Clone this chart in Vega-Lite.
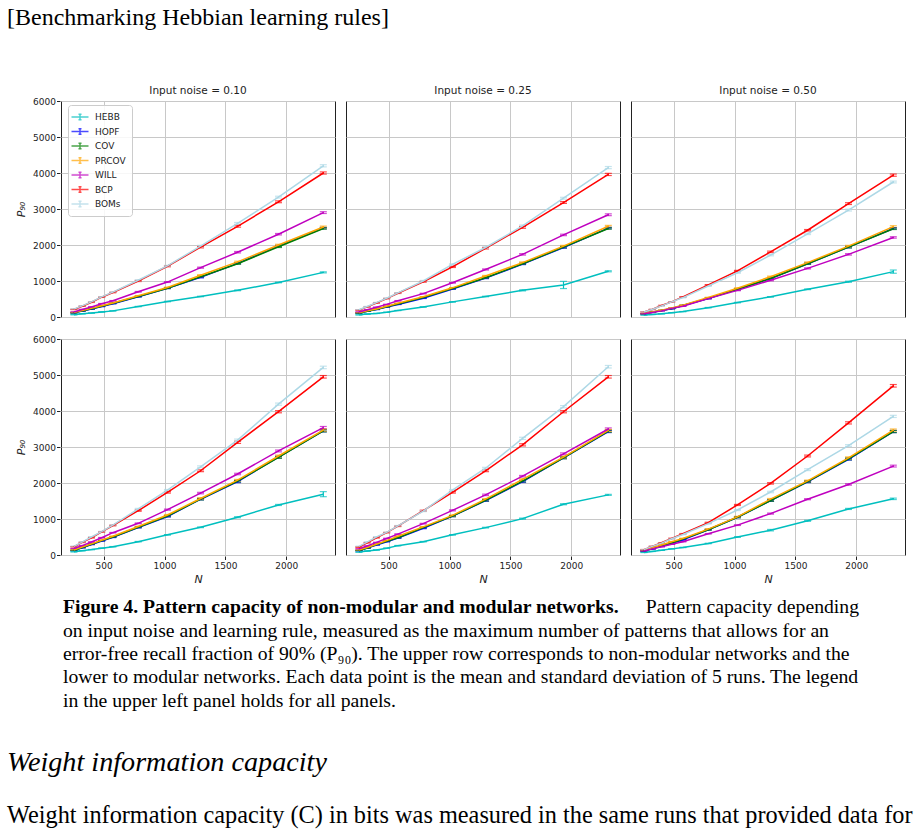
{
"$schema": "https://vega.github.io/schema/vega-lite/v6.json",
"padding": {"left": 7, "top": 5, "right": 5, "bottom": 0},
"background": "white",
"title": {"text": "[Benchmarking Hebbian learning rules]", "anchor": "start", "frame": "bounds", "font": "Liberation Serif", "fontSize": 24, "fontWeight": "normal", "color": "#000", "offset": 56},
"spacing": 0,
"datasets": {
"p90": [
{"noise":"0.10","net":"non-modular","rule":"HEBB","N":256,"P":65,"sd":3},{"noise":"0.10","net":"non-modular","rule":"HEBB","N":324,"P":90,"sd":3},{"noise":"0.10","net":"non-modular","rule":"HEBB","N":400,"P":110,"sd":3},{"noise":"0.10","net":"non-modular","rule":"HEBB","N":484,"P":140,"sd":3},{"noise":"0.10","net":"non-modular","rule":"HEBB","N":576,"P":170,"sd":3},{"noise":"0.10","net":"non-modular","rule":"HEBB","N":784,"P":290,"sd":5},{"noise":"0.10","net":"non-modular","rule":"HEBB","N":1024,"P":430,"sd":7},{"noise":"0.10","net":"non-modular","rule":"HEBB","N":1296,"P":570,"sd":7},{"noise":"0.10","net":"non-modular","rule":"HEBB","N":1600,"P":740,"sd":10},{"noise":"0.10","net":"non-modular","rule":"HEBB","N":1936,"P":960,"sd":10},{"noise":"0.10","net":"non-modular","rule":"HEBB","N":2304,"P":1240,"sd":15},
{"noise":"0.10","net":"non-modular","rule":"HOPF","N":256,"P":115,"sd":3},{"noise":"0.10","net":"non-modular","rule":"HOPF","N":324,"P":165,"sd":3},{"noise":"0.10","net":"non-modular","rule":"HOPF","N":400,"P":220,"sd":5},{"noise":"0.10","net":"non-modular","rule":"HOPF","N":484,"P":290,"sd":5},{"noise":"0.10","net":"non-modular","rule":"HOPF","N":576,"P":370,"sd":5},{"noise":"0.10","net":"non-modular","rule":"HOPF","N":784,"P":560,"sd":7},{"noise":"0.10","net":"non-modular","rule":"HOPF","N":1024,"P":800,"sd":10},{"noise":"0.10","net":"non-modular","rule":"HOPF","N":1296,"P":1100,"sd":15},{"noise":"0.10","net":"non-modular","rule":"HOPF","N":1600,"P":1490,"sd":15},{"noise":"0.10","net":"non-modular","rule":"HOPF","N":1936,"P":1970,"sd":20},{"noise":"0.10","net":"non-modular","rule":"HOPF","N":2304,"P":2470,"sd":20},
{"noise":"0.10","net":"non-modular","rule":"COV","N":256,"P":115,"sd":3},{"noise":"0.10","net":"non-modular","rule":"COV","N":324,"P":170,"sd":3},{"noise":"0.10","net":"non-modular","rule":"COV","N":400,"P":230,"sd":5},{"noise":"0.10","net":"non-modular","rule":"COV","N":484,"P":300,"sd":5},{"noise":"0.10","net":"non-modular","rule":"COV","N":576,"P":380,"sd":5},{"noise":"0.10","net":"non-modular","rule":"COV","N":784,"P":570,"sd":7},{"noise":"0.10","net":"non-modular","rule":"COV","N":1024,"P":800,"sd":10},{"noise":"0.10","net":"non-modular","rule":"COV","N":1296,"P":1120,"sd":15},{"noise":"0.10","net":"non-modular","rule":"COV","N":1600,"P":1480,"sd":15},{"noise":"0.10","net":"non-modular","rule":"COV","N":1936,"P":1950,"sd":20},{"noise":"0.10","net":"non-modular","rule":"COV","N":2304,"P":2460,"sd":20},
{"noise":"0.10","net":"non-modular","rule":"PRCOV","N":256,"P":125,"sd":3},{"noise":"0.10","net":"non-modular","rule":"PRCOV","N":324,"P":180,"sd":3},{"noise":"0.10","net":"non-modular","rule":"PRCOV","N":400,"P":240,"sd":5},{"noise":"0.10","net":"non-modular","rule":"PRCOV","N":484,"P":310,"sd":5},{"noise":"0.10","net":"non-modular","rule":"PRCOV","N":576,"P":390,"sd":5},{"noise":"0.10","net":"non-modular","rule":"PRCOV","N":784,"P":590,"sd":7},{"noise":"0.10","net":"non-modular","rule":"PRCOV","N":1024,"P":820,"sd":10},{"noise":"0.10","net":"non-modular","rule":"PRCOV","N":1296,"P":1160,"sd":15},{"noise":"0.10","net":"non-modular","rule":"PRCOV","N":1600,"P":1530,"sd":20},{"noise":"0.10","net":"non-modular","rule":"PRCOV","N":1936,"P":2000,"sd":20},{"noise":"0.10","net":"non-modular","rule":"PRCOV","N":2304,"P":2500,"sd":25},
{"noise":"0.10","net":"non-modular","rule":"WILL","N":256,"P":140,"sd":3},{"noise":"0.10","net":"non-modular","rule":"WILL","N":324,"P":210,"sd":5},{"noise":"0.10","net":"non-modular","rule":"WILL","N":400,"P":280,"sd":5},{"noise":"0.10","net":"non-modular","rule":"WILL","N":484,"P":370,"sd":5},{"noise":"0.10","net":"non-modular","rule":"WILL","N":576,"P":450,"sd":7},{"noise":"0.10","net":"non-modular","rule":"WILL","N":784,"P":700,"sd":10},{"noise":"0.10","net":"non-modular","rule":"WILL","N":1024,"P":970,"sd":10},{"noise":"0.10","net":"non-modular","rule":"WILL","N":1296,"P":1370,"sd":15},{"noise":"0.10","net":"non-modular","rule":"WILL","N":1600,"P":1800,"sd":20},{"noise":"0.10","net":"non-modular","rule":"WILL","N":1936,"P":2300,"sd":20},{"noise":"0.10","net":"non-modular","rule":"WILL","N":2304,"P":2900,"sd":25},
{"noise":"0.10","net":"non-modular","rule":"BCP","N":256,"P":210,"sd":5},{"noise":"0.10","net":"non-modular","rule":"BCP","N":324,"P":300,"sd":5},{"noise":"0.10","net":"non-modular","rule":"BCP","N":400,"P":410,"sd":7},{"noise":"0.10","net":"non-modular","rule":"BCP","N":484,"P":550,"sd":7},{"noise":"0.10","net":"non-modular","rule":"BCP","N":576,"P":680,"sd":7},{"noise":"0.10","net":"non-modular","rule":"BCP","N":784,"P":1000,"sd":15},{"noise":"0.10","net":"non-modular","rule":"BCP","N":1024,"P":1410,"sd":15},{"noise":"0.10","net":"non-modular","rule":"BCP","N":1296,"P":1940,"sd":20},{"noise":"0.10","net":"non-modular","rule":"BCP","N":1600,"P":2520,"sd":25},{"noise":"0.10","net":"non-modular","rule":"BCP","N":1936,"P":3200,"sd":25},{"noise":"0.10","net":"non-modular","rule":"BCP","N":2304,"P":4000,"sd":30},
{"noise":"0.10","net":"non-modular","rule":"BOMs","N":256,"P":220,"sd":5},{"noise":"0.10","net":"non-modular","rule":"BOMs","N":324,"P":310,"sd":5},{"noise":"0.10","net":"non-modular","rule":"BOMs","N":400,"P":420,"sd":7},{"noise":"0.10","net":"non-modular","rule":"BOMs","N":484,"P":560,"sd":7},{"noise":"0.10","net":"non-modular","rule":"BOMs","N":576,"P":690,"sd":7},{"noise":"0.10","net":"non-modular","rule":"BOMs","N":784,"P":1020,"sd":15},{"noise":"0.10","net":"non-modular","rule":"BOMs","N":1024,"P":1420,"sd":15},{"noise":"0.10","net":"non-modular","rule":"BOMs","N":1296,"P":1970,"sd":20},{"noise":"0.10","net":"non-modular","rule":"BOMs","N":1600,"P":2600,"sd":25},{"noise":"0.10","net":"non-modular","rule":"BOMs","N":1936,"P":3330,"sd":25},{"noise":"0.10","net":"non-modular","rule":"BOMs","N":2304,"P":4200,"sd":30},

{"noise":"0.25","net":"non-modular","rule":"HEBB","N":256,"P":60,"sd":3},{"noise":"0.25","net":"non-modular","rule":"HEBB","N":324,"P":80,"sd":3},{"noise":"0.25","net":"non-modular","rule":"HEBB","N":400,"P":100,"sd":3},{"noise":"0.25","net":"non-modular","rule":"HEBB","N":484,"P":130,"sd":3},{"noise":"0.25","net":"non-modular","rule":"HEBB","N":576,"P":180,"sd":3},{"noise":"0.25","net":"non-modular","rule":"HEBB","N":784,"P":280,"sd":5},{"noise":"0.25","net":"non-modular","rule":"HEBB","N":1024,"P":420,"sd":7},{"noise":"0.25","net":"non-modular","rule":"HEBB","N":1296,"P":570,"sd":7},{"noise":"0.25","net":"non-modular","rule":"HEBB","N":1600,"P":740,"sd":15},{"noise":"0.25","net":"non-modular","rule":"HEBB","N":1936,"P":890,"sd":100},{"noise":"0.25","net":"non-modular","rule":"HEBB","N":2304,"P":1270,"sd":15},
{"noise":"0.25","net":"non-modular","rule":"HOPF","N":256,"P":110,"sd":3},{"noise":"0.25","net":"non-modular","rule":"HOPF","N":324,"P":160,"sd":3},{"noise":"0.25","net":"non-modular","rule":"HOPF","N":400,"P":210,"sd":5},{"noise":"0.25","net":"non-modular","rule":"HOPF","N":484,"P":280,"sd":5},{"noise":"0.25","net":"non-modular","rule":"HOPF","N":576,"P":350,"sd":5},{"noise":"0.25","net":"non-modular","rule":"HOPF","N":784,"P":520,"sd":7},{"noise":"0.25","net":"non-modular","rule":"HOPF","N":1024,"P":780,"sd":10},{"noise":"0.25","net":"non-modular","rule":"HOPF","N":1296,"P":1080,"sd":15},{"noise":"0.25","net":"non-modular","rule":"HOPF","N":1600,"P":1470,"sd":15},{"noise":"0.25","net":"non-modular","rule":"HOPF","N":1936,"P":1930,"sd":20},{"noise":"0.25","net":"non-modular","rule":"HOPF","N":2304,"P":2470,"sd":20},
{"noise":"0.25","net":"non-modular","rule":"COV","N":256,"P":110,"sd":3},{"noise":"0.25","net":"non-modular","rule":"COV","N":324,"P":160,"sd":3},{"noise":"0.25","net":"non-modular","rule":"COV","N":400,"P":215,"sd":5},{"noise":"0.25","net":"non-modular","rule":"COV","N":484,"P":285,"sd":5},{"noise":"0.25","net":"non-modular","rule":"COV","N":576,"P":360,"sd":5},{"noise":"0.25","net":"non-modular","rule":"COV","N":784,"P":540,"sd":7},{"noise":"0.25","net":"non-modular","rule":"COV","N":1024,"P":790,"sd":10},{"noise":"0.25","net":"non-modular","rule":"COV","N":1296,"P":1090,"sd":15},{"noise":"0.25","net":"non-modular","rule":"COV","N":1600,"P":1480,"sd":15},{"noise":"0.25","net":"non-modular","rule":"COV","N":1936,"P":1940,"sd":20},{"noise":"0.25","net":"non-modular","rule":"COV","N":2304,"P":2460,"sd":20},
{"noise":"0.25","net":"non-modular","rule":"PRCOV","N":256,"P":120,"sd":3},{"noise":"0.25","net":"non-modular","rule":"PRCOV","N":324,"P":170,"sd":3},{"noise":"0.25","net":"non-modular","rule":"PRCOV","N":400,"P":225,"sd":5},{"noise":"0.25","net":"non-modular","rule":"PRCOV","N":484,"P":300,"sd":5},{"noise":"0.25","net":"non-modular","rule":"PRCOV","N":576,"P":380,"sd":5},{"noise":"0.25","net":"non-modular","rule":"PRCOV","N":784,"P":560,"sd":7},{"noise":"0.25","net":"non-modular","rule":"PRCOV","N":1024,"P":810,"sd":10},{"noise":"0.25","net":"non-modular","rule":"PRCOV","N":1296,"P":1140,"sd":15},{"noise":"0.25","net":"non-modular","rule":"PRCOV","N":1600,"P":1510,"sd":20},{"noise":"0.25","net":"non-modular","rule":"PRCOV","N":1936,"P":1970,"sd":20},{"noise":"0.25","net":"non-modular","rule":"PRCOV","N":2304,"P":2520,"sd":25},
{"noise":"0.25","net":"non-modular","rule":"WILL","N":256,"P":140,"sd":3},{"noise":"0.25","net":"non-modular","rule":"WILL","N":324,"P":200,"sd":5},{"noise":"0.25","net":"non-modular","rule":"WILL","N":400,"P":270,"sd":5},{"noise":"0.25","net":"non-modular","rule":"WILL","N":484,"P":350,"sd":5},{"noise":"0.25","net":"non-modular","rule":"WILL","N":576,"P":450,"sd":7},{"noise":"0.25","net":"non-modular","rule":"WILL","N":784,"P":650,"sd":10},{"noise":"0.25","net":"non-modular","rule":"WILL","N":1024,"P":950,"sd":10},{"noise":"0.25","net":"non-modular","rule":"WILL","N":1296,"P":1320,"sd":15},{"noise":"0.25","net":"non-modular","rule":"WILL","N":1600,"P":1740,"sd":20},{"noise":"0.25","net":"non-modular","rule":"WILL","N":1936,"P":2280,"sd":20},{"noise":"0.25","net":"non-modular","rule":"WILL","N":2304,"P":2840,"sd":25},
{"noise":"0.25","net":"non-modular","rule":"BCP","N":256,"P":190,"sd":5},{"noise":"0.25","net":"non-modular","rule":"BCP","N":324,"P":280,"sd":5},{"noise":"0.25","net":"non-modular","rule":"BCP","N":400,"P":390,"sd":7},{"noise":"0.25","net":"non-modular","rule":"BCP","N":484,"P":510,"sd":7},{"noise":"0.25","net":"non-modular","rule":"BCP","N":576,"P":660,"sd":7},{"noise":"0.25","net":"non-modular","rule":"BCP","N":784,"P":980,"sd":15},{"noise":"0.25","net":"non-modular","rule":"BCP","N":1024,"P":1390,"sd":15},{"noise":"0.25","net":"non-modular","rule":"BCP","N":1296,"P":1910,"sd":20},{"noise":"0.25","net":"non-modular","rule":"BCP","N":1600,"P":2490,"sd":25},{"noise":"0.25","net":"non-modular","rule":"BCP","N":1936,"P":3180,"sd":25},{"noise":"0.25","net":"non-modular","rule":"BCP","N":2304,"P":3960,"sd":30},
{"noise":"0.25","net":"non-modular","rule":"BOMs","N":256,"P":200,"sd":5},{"noise":"0.25","net":"non-modular","rule":"BOMs","N":324,"P":290,"sd":5},{"noise":"0.25","net":"non-modular","rule":"BOMs","N":400,"P":400,"sd":7},{"noise":"0.25","net":"non-modular","rule":"BOMs","N":484,"P":520,"sd":7},{"noise":"0.25","net":"non-modular","rule":"BOMs","N":576,"P":670,"sd":7},{"noise":"0.25","net":"non-modular","rule":"BOMs","N":784,"P":1000,"sd":15},{"noise":"0.25","net":"non-modular","rule":"BOMs","N":1024,"P":1460,"sd":15},{"noise":"0.25","net":"non-modular","rule":"BOMs","N":1296,"P":1930,"sd":20},{"noise":"0.25","net":"non-modular","rule":"BOMs","N":1600,"P":2530,"sd":25},{"noise":"0.25","net":"non-modular","rule":"BOMs","N":1936,"P":3300,"sd":25},{"noise":"0.25","net":"non-modular","rule":"BOMs","N":2304,"P":4150,"sd":30},

{"noise":"0.50","net":"non-modular","rule":"HEBB","N":256,"P":55,"sd":3},{"noise":"0.50","net":"non-modular","rule":"HEBB","N":324,"P":70,"sd":3},{"noise":"0.50","net":"non-modular","rule":"HEBB","N":400,"P":90,"sd":3},{"noise":"0.50","net":"non-modular","rule":"HEBB","N":484,"P":120,"sd":3},{"noise":"0.50","net":"non-modular","rule":"HEBB","N":576,"P":150,"sd":3},{"noise":"0.50","net":"non-modular","rule":"HEBB","N":784,"P":260,"sd":5},{"noise":"0.50","net":"non-modular","rule":"HEBB","N":1024,"P":400,"sd":7},{"noise":"0.50","net":"non-modular","rule":"HEBB","N":1296,"P":560,"sd":7},{"noise":"0.50","net":"non-modular","rule":"HEBB","N":1600,"P":770,"sd":10},{"noise":"0.50","net":"non-modular","rule":"HEBB","N":1936,"P":980,"sd":15},{"noise":"0.50","net":"non-modular","rule":"HEBB","N":2304,"P":1260,"sd":45},
{"noise":"0.50","net":"non-modular","rule":"HOPF","N":256,"P":90,"sd":3},{"noise":"0.50","net":"non-modular","rule":"HOPF","N":324,"P":130,"sd":3},{"noise":"0.50","net":"non-modular","rule":"HOPF","N":400,"P":180,"sd":3},{"noise":"0.50","net":"non-modular","rule":"HOPF","N":484,"P":230,"sd":5},{"noise":"0.50","net":"non-modular","rule":"HOPF","N":576,"P":320,"sd":5},{"noise":"0.50","net":"non-modular","rule":"HOPF","N":784,"P":510,"sd":7},{"noise":"0.50","net":"non-modular","rule":"HOPF","N":1024,"P":770,"sd":10},{"noise":"0.50","net":"non-modular","rule":"HOPF","N":1296,"P":1070,"sd":15},{"noise":"0.50","net":"non-modular","rule":"HOPF","N":1600,"P":1480,"sd":15},{"noise":"0.50","net":"non-modular","rule":"HOPF","N":1936,"P":1940,"sd":20},{"noise":"0.50","net":"non-modular","rule":"HOPF","N":2304,"P":2460,"sd":20},
{"noise":"0.50","net":"non-modular","rule":"COV","N":256,"P":90,"sd":3},{"noise":"0.50","net":"non-modular","rule":"COV","N":324,"P":130,"sd":3},{"noise":"0.50","net":"non-modular","rule":"COV","N":400,"P":180,"sd":3},{"noise":"0.50","net":"non-modular","rule":"COV","N":484,"P":235,"sd":5},{"noise":"0.50","net":"non-modular","rule":"COV","N":576,"P":320,"sd":5},{"noise":"0.50","net":"non-modular","rule":"COV","N":784,"P":520,"sd":7},{"noise":"0.50","net":"non-modular","rule":"COV","N":1024,"P":770,"sd":10},{"noise":"0.50","net":"non-modular","rule":"COV","N":1296,"P":1070,"sd":15},{"noise":"0.50","net":"non-modular","rule":"COV","N":1600,"P":1480,"sd":15},{"noise":"0.50","net":"non-modular","rule":"COV","N":1936,"P":1940,"sd":20},{"noise":"0.50","net":"non-modular","rule":"COV","N":2304,"P":2450,"sd":20},
{"noise":"0.50","net":"non-modular","rule":"PRCOV","N":256,"P":95,"sd":3},{"noise":"0.50","net":"non-modular","rule":"PRCOV","N":324,"P":140,"sd":3},{"noise":"0.50","net":"non-modular","rule":"PRCOV","N":400,"P":190,"sd":3},{"noise":"0.50","net":"non-modular","rule":"PRCOV","N":484,"P":250,"sd":5},{"noise":"0.50","net":"non-modular","rule":"PRCOV","N":576,"P":330,"sd":5},{"noise":"0.50","net":"non-modular","rule":"PRCOV","N":784,"P":540,"sd":7},{"noise":"0.50","net":"non-modular","rule":"PRCOV","N":1024,"P":800,"sd":10},{"noise":"0.50","net":"non-modular","rule":"PRCOV","N":1296,"P":1120,"sd":15},{"noise":"0.50","net":"non-modular","rule":"PRCOV","N":1600,"P":1510,"sd":20},{"noise":"0.50","net":"non-modular","rule":"PRCOV","N":1936,"P":1970,"sd":20},{"noise":"0.50","net":"non-modular","rule":"PRCOV","N":2304,"P":2510,"sd":25},
{"noise":"0.50","net":"non-modular","rule":"WILL","N":256,"P":90,"sd":3},{"noise":"0.50","net":"non-modular","rule":"WILL","N":324,"P":125,"sd":3},{"noise":"0.50","net":"non-modular","rule":"WILL","N":400,"P":170,"sd":3},{"noise":"0.50","net":"non-modular","rule":"WILL","N":484,"P":240,"sd":5},{"noise":"0.50","net":"non-modular","rule":"WILL","N":576,"P":300,"sd":5},{"noise":"0.50","net":"non-modular","rule":"WILL","N":784,"P":510,"sd":7},{"noise":"0.50","net":"non-modular","rule":"WILL","N":1024,"P":740,"sd":10},{"noise":"0.50","net":"non-modular","rule":"WILL","N":1296,"P":1020,"sd":15},{"noise":"0.50","net":"non-modular","rule":"WILL","N":1600,"P":1350,"sd":15},{"noise":"0.50","net":"non-modular","rule":"WILL","N":1936,"P":1740,"sd":20},{"noise":"0.50","net":"non-modular","rule":"WILL","N":2304,"P":2210,"sd":20},
{"noise":"0.50","net":"non-modular","rule":"BCP","N":256,"P":140,"sd":3},{"noise":"0.50","net":"non-modular","rule":"BCP","N":324,"P":210,"sd":5},{"noise":"0.50","net":"non-modular","rule":"BCP","N":400,"P":320,"sd":5},{"noise":"0.50","net":"non-modular","rule":"BCP","N":484,"P":420,"sd":7},{"noise":"0.50","net":"non-modular","rule":"BCP","N":576,"P":560,"sd":7},{"noise":"0.50","net":"non-modular","rule":"BCP","N":784,"P":890,"sd":10},{"noise":"0.50","net":"non-modular","rule":"BCP","N":1024,"P":1280,"sd":15},{"noise":"0.50","net":"non-modular","rule":"BCP","N":1296,"P":1810,"sd":20},{"noise":"0.50","net":"non-modular","rule":"BCP","N":1600,"P":2410,"sd":20},{"noise":"0.50","net":"non-modular","rule":"BCP","N":1936,"P":3150,"sd":25},{"noise":"0.50","net":"non-modular","rule":"BCP","N":2304,"P":3940,"sd":30},
{"noise":"0.50","net":"non-modular","rule":"BOMs","N":256,"P":140,"sd":3},{"noise":"0.50","net":"non-modular","rule":"BOMs","N":324,"P":210,"sd":5},{"noise":"0.50","net":"non-modular","rule":"BOMs","N":400,"P":310,"sd":5},{"noise":"0.50","net":"non-modular","rule":"BOMs","N":484,"P":420,"sd":7},{"noise":"0.50","net":"non-modular","rule":"BOMs","N":576,"P":540,"sd":7},{"noise":"0.50","net":"non-modular","rule":"BOMs","N":784,"P":860,"sd":10},{"noise":"0.50","net":"non-modular","rule":"BOMs","N":1024,"P":1230,"sd":15},{"noise":"0.50","net":"non-modular","rule":"BOMs","N":1296,"P":1720,"sd":20},{"noise":"0.50","net":"non-modular","rule":"BOMs","N":1600,"P":2310,"sd":20},{"noise":"0.50","net":"non-modular","rule":"BOMs","N":1936,"P":2970,"sd":25},{"noise":"0.50","net":"non-modular","rule":"BOMs","N":2304,"P":3750,"sd":25},

{"noise":"0.10","net":"modular","rule":"HEBB","N":256,"P":90,"sd":3},{"noise":"0.10","net":"modular","rule":"HEBB","N":324,"P":120,"sd":3},{"noise":"0.10","net":"modular","rule":"HEBB","N":400,"P":150,"sd":3},{"noise":"0.10","net":"modular","rule":"HEBB","N":484,"P":190,"sd":3},{"noise":"0.10","net":"modular","rule":"HEBB","N":576,"P":230,"sd":5},{"noise":"0.10","net":"modular","rule":"HEBB","N":784,"P":370,"sd":7},{"noise":"0.10","net":"modular","rule":"HEBB","N":1024,"P":560,"sd":7},{"noise":"0.10","net":"modular","rule":"HEBB","N":1296,"P":770,"sd":10},{"noise":"0.10","net":"modular","rule":"HEBB","N":1600,"P":1050,"sd":15},{"noise":"0.10","net":"modular","rule":"HEBB","N":1936,"P":1390,"sd":15},{"noise":"0.10","net":"modular","rule":"HEBB","N":2304,"P":1690,"sd":70},
{"noise":"0.10","net":"modular","rule":"HOPF","N":256,"P":125,"sd":3},{"noise":"0.10","net":"modular","rule":"HOPF","N":324,"P":200,"sd":5},{"noise":"0.10","net":"modular","rule":"HOPF","N":400,"P":290,"sd":5},{"noise":"0.10","net":"modular","rule":"HOPF","N":484,"P":390,"sd":5},{"noise":"0.10","net":"modular","rule":"HOPF","N":576,"P":490,"sd":7},{"noise":"0.10","net":"modular","rule":"HOPF","N":784,"P":760,"sd":10},{"noise":"0.10","net":"modular","rule":"HOPF","N":1024,"P":1070,"sd":15},{"noise":"0.10","net":"modular","rule":"HOPF","N":1296,"P":1550,"sd":20},{"noise":"0.10","net":"modular","rule":"HOPF","N":1600,"P":2040,"sd":30},{"noise":"0.10","net":"modular","rule":"HOPF","N":1936,"P":2720,"sd":25},{"noise":"0.10","net":"modular","rule":"HOPF","N":2304,"P":3450,"sd":30},
{"noise":"0.10","net":"modular","rule":"COV","N":256,"P":130,"sd":3},{"noise":"0.10","net":"modular","rule":"COV","N":324,"P":210,"sd":5},{"noise":"0.10","net":"modular","rule":"COV","N":400,"P":300,"sd":5},{"noise":"0.10","net":"modular","rule":"COV","N":484,"P":400,"sd":5},{"noise":"0.10","net":"modular","rule":"COV","N":576,"P":500,"sd":7},{"noise":"0.10","net":"modular","rule":"COV","N":784,"P":770,"sd":10},{"noise":"0.10","net":"modular","rule":"COV","N":1024,"P":1080,"sd":15},{"noise":"0.10","net":"modular","rule":"COV","N":1296,"P":1550,"sd":20},{"noise":"0.10","net":"modular","rule":"COV","N":1600,"P":2050,"sd":20},{"noise":"0.10","net":"modular","rule":"COV","N":1936,"P":2710,"sd":25},{"noise":"0.10","net":"modular","rule":"COV","N":2304,"P":3450,"sd":30},
{"noise":"0.10","net":"modular","rule":"PRCOV","N":256,"P":140,"sd":3},{"noise":"0.10","net":"modular","rule":"PRCOV","N":324,"P":220,"sd":5},{"noise":"0.10","net":"modular","rule":"PRCOV","N":400,"P":310,"sd":5},{"noise":"0.10","net":"modular","rule":"PRCOV","N":484,"P":410,"sd":5},{"noise":"0.10","net":"modular","rule":"PRCOV","N":576,"P":520,"sd":7},{"noise":"0.10","net":"modular","rule":"PRCOV","N":784,"P":790,"sd":10},{"noise":"0.10","net":"modular","rule":"PRCOV","N":1024,"P":1110,"sd":15},{"noise":"0.10","net":"modular","rule":"PRCOV","N":1296,"P":1570,"sd":20},{"noise":"0.10","net":"modular","rule":"PRCOV","N":1600,"P":2080,"sd":20},{"noise":"0.10","net":"modular","rule":"PRCOV","N":1936,"P":2750,"sd":25},{"noise":"0.10","net":"modular","rule":"PRCOV","N":2304,"P":3470,"sd":30},
{"noise":"0.10","net":"modular","rule":"WILL","N":256,"P":180,"sd":3},{"noise":"0.10","net":"modular","rule":"WILL","N":324,"P":260,"sd":5},{"noise":"0.10","net":"modular","rule":"WILL","N":400,"P":360,"sd":5},{"noise":"0.10","net":"modular","rule":"WILL","N":484,"P":480,"sd":7},{"noise":"0.10","net":"modular","rule":"WILL","N":576,"P":620,"sd":7},{"noise":"0.10","net":"modular","rule":"WILL","N":784,"P":880,"sd":10},{"noise":"0.10","net":"modular","rule":"WILL","N":1024,"P":1260,"sd":15},{"noise":"0.10","net":"modular","rule":"WILL","N":1296,"P":1720,"sd":20},{"noise":"0.10","net":"modular","rule":"WILL","N":1600,"P":2250,"sd":20},{"noise":"0.10","net":"modular","rule":"WILL","N":1936,"P":2890,"sd":25},{"noise":"0.10","net":"modular","rule":"WILL","N":2304,"P":3540,"sd":30},
{"noise":"0.10","net":"modular","rule":"BCP","N":256,"P":230,"sd":5},{"noise":"0.10","net":"modular","rule":"BCP","N":324,"P":350,"sd":5},{"noise":"0.10","net":"modular","rule":"BCP","N":400,"P":480,"sd":7},{"noise":"0.10","net":"modular","rule":"BCP","N":484,"P":640,"sd":7},{"noise":"0.10","net":"modular","rule":"BCP","N":576,"P":820,"sd":10},{"noise":"0.10","net":"modular","rule":"BCP","N":784,"P":1230,"sd":15},{"noise":"0.10","net":"modular","rule":"BCP","N":1024,"P":1740,"sd":20},{"noise":"0.10","net":"modular","rule":"BCP","N":1296,"P":2340,"sd":25},{"noise":"0.10","net":"modular","rule":"BCP","N":1600,"P":3130,"sd":30},{"noise":"0.10","net":"modular","rule":"BCP","N":1936,"P":3980,"sd":30},{"noise":"0.10","net":"modular","rule":"BCP","N":2304,"P":4950,"sd":35},
{"noise":"0.10","net":"modular","rule":"BOMs","N":256,"P":240,"sd":5},{"noise":"0.10","net":"modular","rule":"BOMs","N":324,"P":360,"sd":5},{"noise":"0.10","net":"modular","rule":"BOMs","N":400,"P":500,"sd":7},{"noise":"0.10","net":"modular","rule":"BOMs","N":484,"P":650,"sd":7},{"noise":"0.10","net":"modular","rule":"BOMs","N":576,"P":830,"sd":10},{"noise":"0.10","net":"modular","rule":"BOMs","N":784,"P":1280,"sd":15},{"noise":"0.10","net":"modular","rule":"BOMs","N":1024,"P":1800,"sd":20},{"noise":"0.10","net":"modular","rule":"BOMs","N":1296,"P":2450,"sd":25},{"noise":"0.10","net":"modular","rule":"BOMs","N":1600,"P":3190,"sd":30},{"noise":"0.10","net":"modular","rule":"BOMs","N":1936,"P":4190,"sd":30},{"noise":"0.10","net":"modular","rule":"BOMs","N":2304,"P":5210,"sd":35},

{"noise":"0.25","net":"modular","rule":"HEBB","N":256,"P":80,"sd":3},{"noise":"0.25","net":"modular","rule":"HEBB","N":324,"P":110,"sd":3},{"noise":"0.25","net":"modular","rule":"HEBB","N":400,"P":140,"sd":3},{"noise":"0.25","net":"modular","rule":"HEBB","N":484,"P":190,"sd":3},{"noise":"0.25","net":"modular","rule":"HEBB","N":576,"P":260,"sd":5},{"noise":"0.25","net":"modular","rule":"HEBB","N":784,"P":370,"sd":7},{"noise":"0.25","net":"modular","rule":"HEBB","N":1024,"P":560,"sd":7},{"noise":"0.25","net":"modular","rule":"HEBB","N":1296,"P":760,"sd":10},{"noise":"0.25","net":"modular","rule":"HEBB","N":1600,"P":1010,"sd":15},{"noise":"0.25","net":"modular","rule":"HEBB","N":1936,"P":1410,"sd":15},{"noise":"0.25","net":"modular","rule":"HEBB","N":2304,"P":1670,"sd":15},
{"noise":"0.25","net":"modular","rule":"HOPF","N":256,"P":120,"sd":3},{"noise":"0.25","net":"modular","rule":"HOPF","N":324,"P":190,"sd":5},{"noise":"0.25","net":"modular","rule":"HOPF","N":400,"P":280,"sd":5},{"noise":"0.25","net":"modular","rule":"HOPF","N":484,"P":370,"sd":5},{"noise":"0.25","net":"modular","rule":"HOPF","N":576,"P":470,"sd":7},{"noise":"0.25","net":"modular","rule":"HOPF","N":784,"P":740,"sd":10},{"noise":"0.25","net":"modular","rule":"HOPF","N":1024,"P":1080,"sd":15},{"noise":"0.25","net":"modular","rule":"HOPF","N":1296,"P":1510,"sd":20},{"noise":"0.25","net":"modular","rule":"HOPF","N":1600,"P":2040,"sd":25},{"noise":"0.25","net":"modular","rule":"HOPF","N":1936,"P":2700,"sd":25},{"noise":"0.25","net":"modular","rule":"HOPF","N":2304,"P":3430,"sd":30},
{"noise":"0.25","net":"modular","rule":"COV","N":256,"P":125,"sd":3},{"noise":"0.25","net":"modular","rule":"COV","N":324,"P":195,"sd":5},{"noise":"0.25","net":"modular","rule":"COV","N":400,"P":290,"sd":5},{"noise":"0.25","net":"modular","rule":"COV","N":484,"P":380,"sd":5},{"noise":"0.25","net":"modular","rule":"COV","N":576,"P":480,"sd":7},{"noise":"0.25","net":"modular","rule":"COV","N":784,"P":760,"sd":10},{"noise":"0.25","net":"modular","rule":"COV","N":1024,"P":1080,"sd":15},{"noise":"0.25","net":"modular","rule":"COV","N":1296,"P":1520,"sd":20},{"noise":"0.25","net":"modular","rule":"COV","N":1600,"P":2050,"sd":20},{"noise":"0.25","net":"modular","rule":"COV","N":1936,"P":2700,"sd":25},{"noise":"0.25","net":"modular","rule":"COV","N":2304,"P":3440,"sd":30},
{"noise":"0.25","net":"modular","rule":"PRCOV","N":256,"P":135,"sd":3},{"noise":"0.25","net":"modular","rule":"PRCOV","N":324,"P":210,"sd":5},{"noise":"0.25","net":"modular","rule":"PRCOV","N":400,"P":300,"sd":5},{"noise":"0.25","net":"modular","rule":"PRCOV","N":484,"P":400,"sd":5},{"noise":"0.25","net":"modular","rule":"PRCOV","N":576,"P":520,"sd":7},{"noise":"0.25","net":"modular","rule":"PRCOV","N":784,"P":780,"sd":10},{"noise":"0.25","net":"modular","rule":"PRCOV","N":1024,"P":1100,"sd":15},{"noise":"0.25","net":"modular","rule":"PRCOV","N":1296,"P":1550,"sd":20},{"noise":"0.25","net":"modular","rule":"PRCOV","N":1600,"P":2100,"sd":20},{"noise":"0.25","net":"modular","rule":"PRCOV","N":1936,"P":2720,"sd":25},{"noise":"0.25","net":"modular","rule":"PRCOV","N":2304,"P":3460,"sd":30},
{"noise":"0.25","net":"modular","rule":"WILL","N":256,"P":170,"sd":3},{"noise":"0.25","net":"modular","rule":"WILL","N":324,"P":250,"sd":5},{"noise":"0.25","net":"modular","rule":"WILL","N":400,"P":350,"sd":5},{"noise":"0.25","net":"modular","rule":"WILL","N":484,"P":460,"sd":7},{"noise":"0.25","net":"modular","rule":"WILL","N":576,"P":580,"sd":7},{"noise":"0.25","net":"modular","rule":"WILL","N":784,"P":870,"sd":10},{"noise":"0.25","net":"modular","rule":"WILL","N":1024,"P":1240,"sd":15},{"noise":"0.25","net":"modular","rule":"WILL","N":1296,"P":1670,"sd":20},{"noise":"0.25","net":"modular","rule":"WILL","N":1600,"P":2190,"sd":20},{"noise":"0.25","net":"modular","rule":"WILL","N":1936,"P":2810,"sd":25},{"noise":"0.25","net":"modular","rule":"WILL","N":2304,"P":3500,"sd":30},
{"noise":"0.25","net":"modular","rule":"BCP","N":256,"P":220,"sd":5},{"noise":"0.25","net":"modular","rule":"BCP","N":324,"P":340,"sd":5},{"noise":"0.25","net":"modular","rule":"BCP","N":400,"P":480,"sd":7},{"noise":"0.25","net":"modular","rule":"BCP","N":484,"P":620,"sd":7},{"noise":"0.25","net":"modular","rule":"BCP","N":576,"P":800,"sd":10},{"noise":"0.25","net":"modular","rule":"BCP","N":784,"P":1230,"sd":15},{"noise":"0.25","net":"modular","rule":"BCP","N":1024,"P":1740,"sd":20},{"noise":"0.25","net":"modular","rule":"BCP","N":1296,"P":2340,"sd":25},{"noise":"0.25","net":"modular","rule":"BCP","N":1600,"P":3060,"sd":30},{"noise":"0.25","net":"modular","rule":"BCP","N":1936,"P":3980,"sd":30},{"noise":"0.25","net":"modular","rule":"BCP","N":2304,"P":4950,"sd":35},
{"noise":"0.25","net":"modular","rule":"BOMs","N":256,"P":240,"sd":5},{"noise":"0.25","net":"modular","rule":"BOMs","N":324,"P":360,"sd":5},{"noise":"0.25","net":"modular","rule":"BOMs","N":400,"P":500,"sd":7},{"noise":"0.25","net":"modular","rule":"BOMs","N":484,"P":630,"sd":7},{"noise":"0.25","net":"modular","rule":"BOMs","N":576,"P":810,"sd":10},{"noise":"0.25","net":"modular","rule":"BOMs","N":784,"P":1220,"sd":15},{"noise":"0.25","net":"modular","rule":"BOMs","N":1024,"P":1800,"sd":20},{"noise":"0.25","net":"modular","rule":"BOMs","N":1296,"P":2410,"sd":25},{"noise":"0.25","net":"modular","rule":"BOMs","N":1600,"P":3240,"sd":30},{"noise":"0.25","net":"modular","rule":"BOMs","N":1936,"P":4120,"sd":30},{"noise":"0.25","net":"modular","rule":"BOMs","N":2304,"P":5230,"sd":35},

{"noise":"0.50","net":"modular","rule":"HEBB","N":256,"P":70,"sd":3},{"noise":"0.50","net":"modular","rule":"HEBB","N":324,"P":100,"sd":3},{"noise":"0.50","net":"modular","rule":"HEBB","N":400,"P":130,"sd":3},{"noise":"0.50","net":"modular","rule":"HEBB","N":484,"P":170,"sd":3},{"noise":"0.50","net":"modular","rule":"HEBB","N":576,"P":210,"sd":5},{"noise":"0.50","net":"modular","rule":"HEBB","N":784,"P":320,"sd":7},{"noise":"0.50","net":"modular","rule":"HEBB","N":1024,"P":500,"sd":7},{"noise":"0.50","net":"modular","rule":"HEBB","N":1296,"P":690,"sd":20},{"noise":"0.50","net":"modular","rule":"HEBB","N":1600,"P":950,"sd":15},{"noise":"0.50","net":"modular","rule":"HEBB","N":1936,"P":1280,"sd":15},{"noise":"0.50","net":"modular","rule":"HEBB","N":2304,"P":1560,"sd":20},
{"noise":"0.50","net":"modular","rule":"HOPF","N":256,"P":110,"sd":3},{"noise":"0.50","net":"modular","rule":"HOPF","N":324,"P":170,"sd":3},{"noise":"0.50","net":"modular","rule":"HOPF","N":400,"P":240,"sd":5},{"noise":"0.50","net":"modular","rule":"HOPF","N":484,"P":320,"sd":5},{"noise":"0.50","net":"modular","rule":"HOPF","N":576,"P":420,"sd":7},{"noise":"0.50","net":"modular","rule":"HOPF","N":784,"P":700,"sd":10},{"noise":"0.50","net":"modular","rule":"HOPF","N":1024,"P":1050,"sd":15},{"noise":"0.50","net":"modular","rule":"HOPF","N":1296,"P":1510,"sd":20},{"noise":"0.50","net":"modular","rule":"HOPF","N":1600,"P":2030,"sd":20},{"noise":"0.50","net":"modular","rule":"HOPF","N":1936,"P":2660,"sd":25},{"noise":"0.50","net":"modular","rule":"HOPF","N":2304,"P":3430,"sd":30},
{"noise":"0.50","net":"modular","rule":"COV","N":256,"P":115,"sd":3},{"noise":"0.50","net":"modular","rule":"COV","N":324,"P":180,"sd":3},{"noise":"0.50","net":"modular","rule":"COV","N":400,"P":250,"sd":5},{"noise":"0.50","net":"modular","rule":"COV","N":484,"P":330,"sd":5},{"noise":"0.50","net":"modular","rule":"COV","N":576,"P":440,"sd":7},{"noise":"0.50","net":"modular","rule":"COV","N":784,"P":700,"sd":10},{"noise":"0.50","net":"modular","rule":"COV","N":1024,"P":1050,"sd":15},{"noise":"0.50","net":"modular","rule":"COV","N":1296,"P":1510,"sd":20},{"noise":"0.50","net":"modular","rule":"COV","N":1600,"P":2040,"sd":20},{"noise":"0.50","net":"modular","rule":"COV","N":1936,"P":2670,"sd":25},{"noise":"0.50","net":"modular","rule":"COV","N":2304,"P":3430,"sd":30},
{"noise":"0.50","net":"modular","rule":"PRCOV","N":256,"P":130,"sd":3},{"noise":"0.50","net":"modular","rule":"PRCOV","N":324,"P":200,"sd":3},{"noise":"0.50","net":"modular","rule":"PRCOV","N":400,"P":280,"sd":5},{"noise":"0.50","net":"modular","rule":"PRCOV","N":484,"P":370,"sd":5},{"noise":"0.50","net":"modular","rule":"PRCOV","N":576,"P":460,"sd":7},{"noise":"0.50","net":"modular","rule":"PRCOV","N":784,"P":720,"sd":10},{"noise":"0.50","net":"modular","rule":"PRCOV","N":1024,"P":1060,"sd":15},{"noise":"0.50","net":"modular","rule":"PRCOV","N":1296,"P":1550,"sd":20},{"noise":"0.50","net":"modular","rule":"PRCOV","N":1600,"P":2060,"sd":20},{"noise":"0.50","net":"modular","rule":"PRCOV","N":1936,"P":2700,"sd":25},{"noise":"0.50","net":"modular","rule":"PRCOV","N":2304,"P":3470,"sd":30},
{"noise":"0.50","net":"modular","rule":"WILL","N":256,"P":110,"sd":3},{"noise":"0.50","net":"modular","rule":"WILL","N":324,"P":170,"sd":3},{"noise":"0.50","net":"modular","rule":"WILL","N":400,"P":230,"sd":5},{"noise":"0.50","net":"modular","rule":"WILL","N":484,"P":300,"sd":5},{"noise":"0.50","net":"modular","rule":"WILL","N":576,"P":370,"sd":5},{"noise":"0.50","net":"modular","rule":"WILL","N":784,"P":590,"sd":7},{"noise":"0.50","net":"modular","rule":"WILL","N":1024,"P":830,"sd":10},{"noise":"0.50","net":"modular","rule":"WILL","N":1296,"P":1150,"sd":15},{"noise":"0.50","net":"modular","rule":"WILL","N":1600,"P":1550,"sd":15},{"noise":"0.50","net":"modular","rule":"WILL","N":1936,"P":1960,"sd":20},{"noise":"0.50","net":"modular","rule":"WILL","N":2304,"P":2470,"sd":25},
{"noise":"0.50","net":"modular","rule":"BCP","N":256,"P":150,"sd":3},{"noise":"0.50","net":"modular","rule":"BCP","N":324,"P":240,"sd":5},{"noise":"0.50","net":"modular","rule":"BCP","N":400,"P":340,"sd":5},{"noise":"0.50","net":"modular","rule":"BCP","N":484,"P":460,"sd":7},{"noise":"0.50","net":"modular","rule":"BCP","N":576,"P":590,"sd":7},{"noise":"0.50","net":"modular","rule":"BCP","N":784,"P":900,"sd":10},{"noise":"0.50","net":"modular","rule":"BCP","N":1024,"P":1390,"sd":15},{"noise":"0.50","net":"modular","rule":"BCP","N":1296,"P":1990,"sd":20},{"noise":"0.50","net":"modular","rule":"BCP","N":1600,"P":2750,"sd":25},{"noise":"0.50","net":"modular","rule":"BCP","N":1936,"P":3670,"sd":30},{"noise":"0.50","net":"modular","rule":"BCP","N":2304,"P":4700,"sd":35},
{"noise":"0.50","net":"modular","rule":"BOMs","N":256,"P":150,"sd":3},{"noise":"0.50","net":"modular","rule":"BOMs","N":324,"P":240,"sd":5},{"noise":"0.50","net":"modular","rule":"BOMs","N":400,"P":330,"sd":5},{"noise":"0.50","net":"modular","rule":"BOMs","N":484,"P":450,"sd":7},{"noise":"0.50","net":"modular","rule":"BOMs","N":576,"P":570,"sd":7},{"noise":"0.50","net":"modular","rule":"BOMs","N":784,"P":870,"sd":10},{"noise":"0.50","net":"modular","rule":"BOMs","N":1024,"P":1250,"sd":15},{"noise":"0.50","net":"modular","rule":"BOMs","N":1296,"P":1750,"sd":20},{"noise":"0.50","net":"modular","rule":"BOMs","N":1600,"P":2370,"sd":25},{"noise":"0.50","net":"modular","rule":"BOMs","N":1936,"P":3040,"sd":25},{"noise":"0.50","net":"modular","rule":"BOMs","N":2304,"P":3850,"sd":30}
]
},
"vconcat": [
{
"data": {"name": "p90"},
"facet": {
 "column": {"field": "noise", "type": "nominal", "header": {"title": null, "labelExpr": "'Input noise = ' + datum.value", "labelFont": "DejaVu Sans", "labelFontSize": 10.5, "labelColor": "#222", "labelPadding": 4}},
 "row": {"field": "net", "type": "nominal", "sort": ["non-modular", "modular"], "header": {"title": null, "labels": false}}
},
"spacing": {"row": 19, "column": 9},
"spec": {
 "width": 274,
 "height": 216,
 "encoding": {
  "x": {"field": "N", "type": "quantitative", "title": "N", "scale": {"domain": [150, 2400], "nice": false, "zero": false}, "axis": {"values": [500, 1000, 1500, 2000], "format": "d", "titleFontStyle": "italic", "labelPadding": 1.5, "titlePadding": 3}},
  "y": {"field": "P", "type": "quantitative", "title": "P₉₀", "scale": {"domain": [0, 6000], "nice": false}, "axis": {"values": [0, 1000, 2000, 3000, 4000, 5000, 6000], "format": "d", "titleFontStyle": "italic", "labelPadding": 1, "titlePadding": 6}},
  "color": {"field": "rule", "type": "nominal", "scale": {"domain": ["HEBB", "HOPF", "COV", "PRCOV", "WILL", "BCP", "BOMs"], "range": ["#00BFBF", "#0000FF", "#008000", "#FFA500", "#BF00BF", "#FF0000", "#ADD8E6"]},
   "legend": {"title": null, "orient": "none", "legendX": 7, "legendY": 4, "symbolType": "M-1.7,0H1.7M0,-0.55V0.55M-0.3,-0.55H0.3M-0.3,0.55H0.3", "symbolSize": 100, "symbolStrokeWidth": 1.5, "symbolFillColor": "transparent", "labelFont": "DejaVu Sans", "labelFontSize": 9, "labelColor": "#222", "labelOffset": 9, "fillColor": "rgba(255,255,255,0.85)", "strokeColor": "#cccccc", "cornerRadius": 3, "padding": 6, "rowPadding": 2.5}}
 },
 "layer": [
  {"mark": {"type": "errorbar", "ticks": {"size": 7}, "thickness": 1.2}, "encoding": {"yError": {"field": "sd"}}},
  {"mark": {"type": "line", "strokeWidth": 1.5}}
 ]
}
},
{
"width": 796,
"height": 140,
"view": {"stroke": null},
"layer": [
 {"data": {"values": [{"line": 1, "text": "Figure 4. Pattern capacity of non-modular and modular networks."}]},
  "mark": {"type": "text", "align": "left", "baseline": "middle", "font": "Liberation Serif", "fontSize": 19.7, "fontWeight": "bold", "color": "#000", "dx": 2},
  "encoding": {"x": {"value": 0}, "y": {"field": "line", "type": "ordinal", "axis": null, "scale": {"type": "point", "padding": 1, "domain": [1, 2, 3, 4, 5]}}, "text": {"field": "text"}}},
 {"data": {"values": [{"line": 1, "text": "Pattern capacity depending"}]},
  "mark": {"type": "text", "align": "right", "baseline": "middle", "font": "Liberation Serif", "fontSize": 19.7, "color": "#000", "dx": 2},
  "encoding": {"x": {"value": "width"}, "y": {"field": "line", "type": "ordinal", "axis": null}, "text": {"field": "text"}}},
 {"data": {"values": [
   {"line": 2, "text": "on input noise and learning rule, measured as the maximum number of patterns that allows for an"},
   {"line": 3, "text": "error-free recall fraction of 90% (P₉₀). The upper row corresponds to non-modular networks and the"},
   {"line": 4, "text": "lower to modular networks. Each data point is the mean and standard deviation of 5 runs. The legend"},
   {"line": 5, "text": "in the upper left panel holds for all panels."}]},
  "mark": {"type": "text", "align": "left", "baseline": "middle", "font": "Liberation Serif", "fontSize": 19.7, "color": "#000", "dx": 2},
  "encoding": {"x": {"value": 0}, "y": {"field": "line", "type": "ordinal", "axis": null}, "text": {"field": "text"}}}
]
},
{
"width": 796,
"height": 78,
"view": {"stroke": null},
"data": {"values": [{"text": "Weight information capacity"}]},
"mark": {"type": "text", "align": "left", "baseline": "middle", "font": "Liberation Serif", "fontSize": 28.2, "fontStyle": "italic", "color": "#000", "dx": -54},
"encoding": {"x": {"value": 0}, "text": {"field": "text"}}
},
{
"width": 796,
"height": 28,
"view": {"stroke": null},
"data": {"values": [{"text": "Weight information capacity (C) in bits was measured in the same runs that provided data for"}]},
"mark": {"type": "text", "align": "left", "baseline": "middle", "font": "Liberation Serif", "fontSize": 24.3, "color": "#000", "dx": -54},
"encoding": {"x": {"value": 0}, "text": {"field": "text"}}
}
],
"config": {
 "view": {"stroke": "#222", "strokeWidth": 1},
 "font": "DejaVu Sans",
 "axis": {"labelFont": "DejaVu Sans", "labelFontSize": 9, "labelColor": "#222", "titleFont": "DejaVu Sans", "titleFontSize": 11, "titleFontWeight": "normal", "titleColor": "#222", "gridColor": "#c8c8c8", "gridWidth": 1, "domain": false, "tickColor": "#222", "tickSize": 3.5}
}
}
